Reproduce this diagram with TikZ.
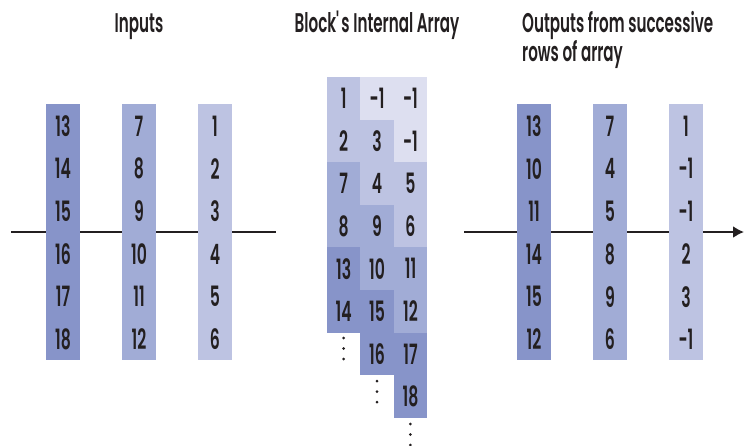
\documentclass[tikz,border=0pt]{standalone}
\usepackage{fontspec}
\setmainfont[FakeStretch=0.56, BoldFont={* SemiBold}]{Poppins}
\usetikzlibrary{arrows.meta}

\definecolor{ink}{HTML}{231F20}
\definecolor{bdark}{HTML}{8794C9}
\definecolor{bmid}{HTML}{A1ACD6}
\definecolor{blight}{HTML}{BDC3E2}
\definecolor{bpale}{HTML}{DDDFF0}

\tikzset{
  colbox/.style={rectangle, minimum width=34pt, minimum height=256pt, inner sep=0pt},
  cell/.style={rectangle, minimum width=33.4pt, minimum height=42.7pt, inner sep=0pt,
    font=\fontsize{28}{28}\selectfont\bfseries, text=ink},
  num/.style={font=\fontsize{28}{28}\selectfont\bfseries, text=ink, inner sep=0pt},
  title/.style={font=\fontsize{27}{28}\selectfont\bfseries, text=ink, inner sep=0pt},
  wire/.style={draw=ink, line width=2pt},
}

\begin{document}
\begin{tikzpicture}[x=1pt,y=-1pt]
\useasboundingbox (0,0) rectangle (744,445);

% titles
\node[title, anchor=base] (tin) at (139,32) {Inputs};
\node[title, anchor=base] (tarr) at (377,32) {Block\textquotesingle s Internal Array};
\node[title, anchor=north west, align=left] (tout) at (522,11) {Outputs from successive\\rows of array};

% input columns
\node[colbox, fill=bdark] (in1) at (63,232) {};
\node[colbox, fill=bmid] (in2) at (139,232) {};
\node[colbox, fill=blight] (in3) at (215,232) {};
\foreach \a/\b/\c [count=\i] in {13/7/1, 14/8/2, 15/9/3, 16/10/4, 17/11/5, 18/12/6} {
  \node[num] (in1-\i) at (63,{83.3+42.67*\i}) {\a};
  \node[num] (in2-\i) at (139,{83.3+42.67*\i}) {\b};
  \node[num] (in3-\i) at (215,{83.3+42.67*\i}) {\c};
}
\coordinate (inL) at (11,232);
\coordinate (inR) at (276,232);
\draw[wire] (inL) -- (in1.west);
\draw[wire] (in1.east) -- (in2.west);
\draw[wire] (in2.east) -- (in3.west);
\draw[wire] (in3.east) -- (inR);

% internal array
\foreach \r/\c/\v/\col in {1/1/1/blight, 1/2/-1/bpale, 1/3/-1/bpale,
    2/1/2/blight, 2/2/3/blight, 2/3/-1/bpale,
    3/1/7/bmid, 3/2/4/blight, 3/3/5/blight,
    4/1/8/bmid, 4/2/9/bmid, 4/3/6/blight,
    5/1/13/bdark, 5/2/10/bmid, 5/3/11/bmid,
    6/1/14/bdark, 6/2/15/bdark, 6/3/12/bmid,
    7/2/16/bdark, 7/3/17/bdark,
    8/3/18/bdark} {
  \node[cell, fill=\col] (a\r\c) at ({310.3+33.4*\c},{55.7+42.6*\r}) {\v};
}
\foreach \x/\y in {343.7/338, 377/381, 410.3/424}
  \foreach \k in {0,1,2}
    \fill[ink] (\x,{\y+10.5*\k}) circle (1.5);

% output columns
\node[colbox, fill=bdark] (out1) at (534,232) {};
\node[colbox, fill=bmid] (out2) at (610,232) {};
\node[colbox, fill=blight] (out3) at (686,232) {};
\foreach \a/\b/\c [count=\i] in {13/7/1, 10/4/-1, 11/5/-1, 14/8/2, 15/9/3, 12/6/-1} {
  \node[num] (out1-\i) at (534,{83.3+42.67*\i}) {\a};
  \node[num] (out2-\i) at (610,{83.3+42.67*\i}) {\b};
  \node[num] (out3-\i) at (686,{83.3+42.67*\i}) {\c};
}
\coordinate (outL) at (464,232);
\coordinate (outR) at (744,232);
\draw[wire] (outL) -- (out1.west);
\draw[wire] (out1.east) -- (out2.west);
\draw[wire] (out2.east) -- (out3.west);
\draw[wire, -{Latex[length=11pt,width=12pt]}] (out3.east) -- (outR);
\end{tikzpicture}
\end{document}
